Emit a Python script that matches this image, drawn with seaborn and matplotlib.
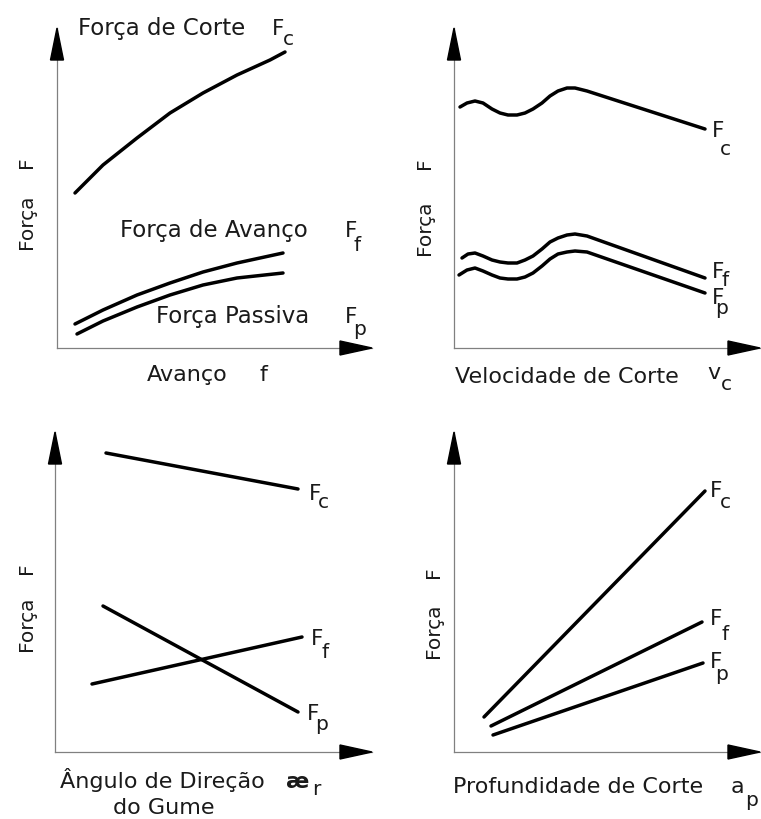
import matplotlib
matplotlib.use("Agg")
import matplotlib.pyplot as plt
import seaborn as sns
from matplotlib.patches import Polygon

# ---------------- data (arbitrary force units) ----------------
# Panel 1: Força vs Avanço f
p1_fc_x = [18, 46, 80, 113, 146, 180, 213, 228]
p1_fc_y = [155, 183, 210, 235, 255, 273, 288, 296]
p1_ff_x = [18, 46, 80, 113, 146, 180, 226]
p1_ff_y = [24, 38, 53, 65, 76, 85, 95]
p1_fp_x = [20, 46, 80, 113, 146, 180, 226]
p1_fp_y = [14, 27, 41, 53, 63, 70, 75]

# Panel 2: Força vs Velocidade de Corte v_c
p2_fc_x = [6, 13, 21, 29, 38, 46, 54, 63, 71, 79, 88, 96, 104, 113, 121, 133, 251]
p2_fc_y = [241, 245, 247, 245, 239, 235, 233, 233, 235, 239, 245, 252, 257, 260, 260, 257, 219]
p2_ff_x = [8, 14, 21, 29, 38, 46, 54, 63, 71, 79, 88, 96, 104, 113, 121, 133, 251]
p2_ff_y = [90, 94, 95, 92, 88, 86, 85, 85, 88, 92, 99, 106, 110, 113, 114, 112, 70]
p2_fp_x = [5, 13, 21, 29, 38, 46, 54, 63, 71, 79, 88, 96, 104, 113, 121, 133, 251]
p2_fp_y = [73, 78, 80, 77, 73, 70, 69, 69, 71, 75, 82, 89, 94, 96, 97, 96, 55]

# Panel 3: Força vs Ângulo de Direção do Gume
p3_fc_x = [51, 243]
p3_fc_y = [299, 263]
p3_ff_x = [37, 247]
p3_ff_y = [68, 115]
p3_fp_x = [48, 243]
p3_fp_y = [146, 40]

# Panel 4: Força vs Profundidade de Corte a_p
p4_fc_x = [30, 251]
p4_fc_y = [35, 261]
p4_ff_x = [37, 248]
p4_ff_y = [26, 130]
p4_fp_x = [39, 249]
p4_fp_y = [17, 89]

# ---------------- figure ----------------
W_PX, H_PX = 761, 819
sns.set_theme(style="white")
plt.rcParams["font.family"] = ["DejaVu Sans"]

fig = plt.figure(figsize=(W_PX / 100, H_PX / 100), dpi=100)
fig.patch.set_facecolor("white")

TXT = "#1a1a1a"
HS = 16      # horizontal label size
VS = 14.5    # vertical label size
FS = 15.5    # "F" of force symbols
SS = 14.5    # subscripts


def ptext(x, y, s, size=HS, **kw):
    fig.text(x / W_PX, 1 - y / H_PX, s, fontsize=size, ha="left",
             va="baseline", color=TXT, **kw)


def vtext(x, y, s):
    fig.text(x / W_PX, 1 - y / H_PX, s, fontsize=VS, rotation=90,
             rotation_mode="anchor", ha="left", va="baseline", color=TXT)


def flabel(x, y, sub, sx, sy):
    ptext(x, y, "F", size=FS)
    ptext(sx, sy, sub, size=SS)


def make_axes(x0, y0, w, h):
    ax = fig.add_axes([x0 / W_PX, 1 - y0 / H_PX, w / W_PX, h / H_PX])
    ax.set_xlim(0, w)
    ax.set_ylim(0, h)
    ax.set_xticks([])
    ax.set_yticks([])
    ax.set_facecolor("none")
    for s in ["top", "right"]:
        ax.spines[s].set_visible(False)
    for s in ["left", "bottom"]:
        ax.spines[s].set_color("#808080")
        ax.spines[s].set_linewidth(0.9)
    ax.add_patch(Polygon([[0, h], [-6.5, h - 32], [6.5, h - 32]], closed=True,
                         facecolor="black", edgecolor="black", clip_on=False, zorder=5))
    ax.add_patch(Polygon([[w, 0], [w - 32, -7], [w - 32, 7]], closed=True,
                         facecolor="black", edgecolor="black", clip_on=False, zorder=5))
    return ax


def draw(ax, xs, ys):
    sns.lineplot(x=xs, y=ys, ax=ax, color="black", linewidth=2.5, sort=False,
                 estimator=None, solid_capstyle="round", solid_joinstyle="round")


# Panel 1
ax1 = make_axes(57, 348, 315, 320)
draw(ax1, p1_fc_x, p1_fc_y)
draw(ax1, p1_ff_x, p1_ff_y)
draw(ax1, p1_fp_x, p1_fp_y)
ptext(78, 35, "Força de Corte", size=16.5)
flabel(272, 35, "c", 283, 45)
ptext(120, 237, "Força de Avanço", size=16.5)
flabel(345, 237, "f", 354, 251)
ptext(156, 323, "Força Passiva", size=16.5)
flabel(345, 323, "p", 353, 335)
ptext(147, 381, "Avanço")
ptext(259, 381, "f")
vtext(32, 249, "Força")
vtext(32, 168, "F")

# Panel 2
ax2 = make_axes(454, 348, 306, 320)
draw(ax2, p2_fc_x, p2_fc_y)
draw(ax2, p2_ff_x, p2_ff_y)
draw(ax2, p2_fp_x, p2_fp_y)
flabel(712, 137, "c", 720, 155)
flabel(712, 278, "f", 722, 286)
flabel(712, 304, "p", 715, 314)
ptext(455, 383, "Velocidade de Corte")
ptext(707, 379, "v")
ptext(721, 390, "c", size=SS)
vtext(430, 255, "Força")
vtext(430, 169, "F")

# Panel 3
ax3 = make_axes(55, 752, 317, 320)
draw(ax3, p3_fc_x, p3_fc_y)
draw(ax3, p3_ff_x, p3_ff_y)
draw(ax3, p3_fp_x, p3_fp_y)
flabel(309, 500, "c", 318, 508)
flabel(311, 645, "f", 321, 658)
flabel(307, 720, "p", 315, 730)
ptext(60, 788, "Ângulo de Direção")
ptext(113, 814, "do Gume")
ptext(286, 788, "æ", fontweight="bold")
ptext(312, 795, "r", size=SS)
vtext(32, 651, "Força")
vtext(32, 574, "F")

# Panel 4
ax4 = make_axes(454, 752, 306, 320)
draw(ax4, p4_fc_x, p4_fc_y)
draw(ax4, p4_ff_x, p4_ff_y)
draw(ax4, p4_fp_x, p4_fp_y)
flabel(710, 497, "c", 720, 508)
flabel(710, 625, "f", 721, 640)
flabel(710, 668, "p", 715, 680)
ptext(453, 793, "Profundidade de Corte")
ptext(731, 793, "a")
ptext(745, 806, "p", size=SS)
vtext(439, 658, "Força")
vtext(439, 578, "F")

fig.savefig("out.png", dpi=100, facecolor="white")
